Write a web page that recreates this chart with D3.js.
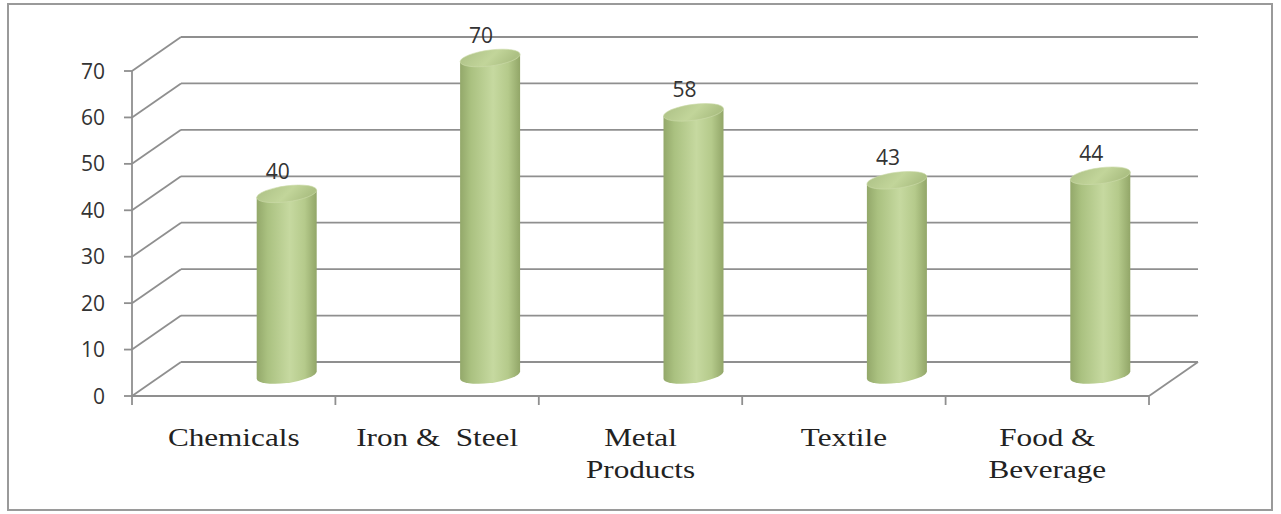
<!DOCTYPE html>
<html>
<head>
<meta charset="utf-8">
<script src="https://cdn.jsdelivr.net/npm/d3@7"></script>
<style>
  html, body { margin: 0; padding: 0; background: #fff; }
  svg { display: block; }
</style>
</head>
<body>
<svg id="chart" width="1281" height="514"></svg>
<script>
// ---- data ----
const categories = [["Chemicals"], ["Iron &  Steel"], ["Metal", "Products"], ["Textile"], ["Food &", "Beverage"]];
const values = [40, 70, 58, 43, 44];
const yTicks = [0, 10, 20, 30, 40, 50, 60, 70];

// ---- layout ----
const svg = d3.select("#chart");
const depthX = 49, depthY = -34;
const lineColor = "#8f8f8f";

const x = d3.scaleBand().domain(d3.range(categories.length)).range([132, 1149]).paddingInner(0).paddingOuter(0);
const y = d3.scaleLinear().domain([0, 70]).range([396, 71]);
const yCyl = d3.scaleLinear().domain([0, 70]).range([375, 58]);

// frame
svg.append("rect").attr("x", 8).attr("y", 4).attr("width", 1264).attr("height", 506)
  .attr("fill", "#fff").attr("stroke", "#9a9a9a").attr("stroke-width", 2);

const x0 = x.range()[0], x1 = x.range()[1];

// back wall gridlines + side wall diagonals
const grid = svg.append("g").attr("stroke", lineColor).attr("stroke-width", 1.8).attr("fill", "none");
yTicks.forEach(t => {
  grid.append("line").attr("x1", x0 + depthX).attr("x2", x1 + depthX)
    .attr("y1", y(t) + depthY).attr("y2", y(t) + depthY);
  grid.append("line").attr("x1", x0).attr("y1", y(t))
    .attr("x2", x0 + depthX).attr("y2", y(t) + depthY);
});
// floor front and right edge
grid.append("line").attr("x1", x0).attr("x2", x1).attr("y1", y(0)).attr("y2", y(0));
grid.append("line").attr("x1", x1).attr("y1", y(0)).attr("x2", x1 + depthX).attr("y2", y(0) + depthY);
// vertical axis
grid.append("line").attr("x1", x0).attr("x2", x0).attr("y1", y(70)).attr("y2", y(0));
// y ticks
yTicks.forEach(t => {
  grid.append("line").attr("x1", x0 - 8).attr("x2", x0).attr("y1", y(t)).attr("y2", y(t));
});
// category ticks
d3.range(categories.length + 1).forEach(i => {
  const xx = i < categories.length ? x(i) : x1;
  grid.append("line").attr("x1", xx).attr("x2", xx).attr("y1", y(0)).attr("y2", y(0) + 9);
});

// y tick labels
svg.append("g").selectAll("text").data(yTicks).join("text")
  .attr("x", 105).attr("y", d => y(d)).attr("dy", "0.36em")
  .attr("text-anchor", "end")
  .attr("font-family", "'Open Sans', sans-serif").attr("font-size", 21)
  .attr("fill", "#333").text(d => d);

// gradients
const defs = svg.append("defs");
const bodyGrad = defs.append("linearGradient").attr("id", "body").attr("x1", 0).attr("x2", 1).attr("y1", 0).attr("y2", 0);
[["0%", "#93a86a"], ["18%", "#aac180"], ["55%", "#c6d9a0"], ["80%", "#b5ca8b"], ["100%", "#92a668"]]
  .forEach(([o, c]) => bodyGrad.append("stop").attr("offset", o).attr("stop-color", c));
const topGrad = defs.append("linearGradient").attr("id", "top").attr("x1", 0).attr("x2", 1).attr("y1", 0).attr("y2", 0.3);
[["0%", "#adc186"], ["60%", "#c2d59a"], ["100%", "#adc184"]]
  .forEach(([o, c]) => topGrad.append("stop").attr("offset", o).attr("stop-color", c));

// cylinders
const rx = 30, ry = 8, off = 53;
const cyl = svg.append("g").selectAll("g").data(values).join("g")
  .attr("transform", (d, i) => `translate(${x(i) + x.bandwidth() / 2 + off},0) skewY(-7)`);
cyl.append("path")
  .attr("d", d => {
    const yt = yCyl(d), yb = yCyl(0);
    return `M${-rx},${yt} L${-rx},${yb} A${rx},${ry} 0 0 0 ${rx},${yb} L${rx},${yt} Z`;
  })
  .attr("fill", "url(#body)");
cyl.append("ellipse")
  .attr("cx", 0).attr("cy", d => yCyl(d)).attr("rx", rx).attr("ry", ry)
  .attr("fill", "url(#top)").attr("stroke", "#cddcab").attr("stroke-width", 0.6);

// value labels
svg.append("g").selectAll("text").data(values).join("text")
  .attr("x", (d, i) => x(i) + x.bandwidth() / 2 + off - 9)
  .attr("y", d => yCyl(d) - 15)
  .attr("text-anchor", "middle")
  .attr("font-family", "'Open Sans', sans-serif").attr("font-size", 21)
  .attr("fill", "#333").text(d => d);

// category labels
const catG = svg.append("g");
categories.forEach((lines, i) => {
  const cx = x(i) + x.bandwidth() / 2;
  const t = catG.append("text")
    .attr("transform", `translate(${cx},446) scale(1.2,1)`)
    .attr("text-anchor", "middle")
    .attr("font-family", "'Liberation Serif', 'Times New Roman', serif")
    .attr("font-size", 26).attr("fill", "#222")
    .style("white-space", "pre");
  lines.forEach((l, j) => {
    t.append("tspan").attr("x", 0).attr("y", j * 32).text(l);
  });
});
</script>
</body>
</html>
